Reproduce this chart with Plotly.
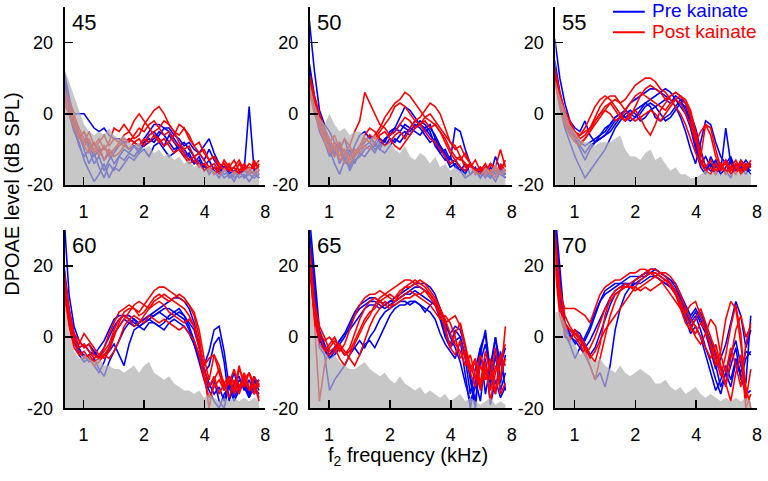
import math
import plotly.graph_objects as go

# f2 frequency grid (kHz)
freq = [0.800, 0.847, 0.897, 0.950, 1.006, 1.065, 1.128, 1.194, 1.265, 1.339,
        1.418, 1.502, 1.590, 1.684, 1.783, 1.888, 1.999, 2.117, 2.242, 2.374,
        2.514, 2.662, 2.819, 2.985, 3.161, 3.347, 3.544, 3.753, 3.974, 4.208,
        4.456, 4.719, 4.997, 5.291, 5.603, 5.933, 6.283, 6.653, 7.045, 7.450]

levels = ["45", "50", "55", "60", "65", "70"]
x_ticks = [1, 2, 4, 8]
y_ticks = [-20, 0, 20]
legend_names = ["Pre kainate", "Post kainate"]

# noise floors (dB SPL)
noise_45 = [13, 9, 5, 1, -3, -5, -6, -5, -6, -4, -6, -7, -6, -8, -9, -8, -10, -9, -11, -10,
            -12, -11, -13, -12, -14, -13, -15, -14, -16, -15, -16, -17, -15, -17, -16, -17, -16, -15, -16, -15]
noise_50 = [9, 3, -1, -3, 0, -3, -5, -4, -6, -5, -5, -6, -7, -6, -8, -9, -8, -10, -11, -9,
            -12, -13, -11, -12, -14, -12, -15, -14, -16, -15, -16, -17, -15, -16, -17, -15, -16, -14, -16, -15]
noise_55 = [10, 5, 1, -3, -5, -7, -8, -8, -9, -8, -8, -8, -7, -6, -10, -12, -12, -13, -11, -10,
            -13, -12, -14, -16, -15, -17, -17, -18, -18, -17, -16, -17, -16, -17, -16, -17, -16, -17, -16, -17]
noise_60 = [11, 2, -4, -6, -5, -6, -7, -6, -8, -8, -9, -9, -10, -9, -8, -10, -8, -7, -10, -11,
            -12, -11, -13, -14, -15, -15, -16, -15, -17, -16, -17, -18, -17, -18, -17, -18, -17, -18, -17, -18]
noise_65 = [15, 3, -2, -4, -6, -5, -7, -8, -9, -9, -8, -7, -9, -10, -11, -10, -12, -13, -11, -13,
            -14, -15, -14, -16, -15, -16, -17, -16, -18, -17, -16, -18, -17, -18, -19, -18, -17, -19, -18, -19]
noise_70 = [7, 7, 4, 0, -2, -5, -4, -6, -7, -6, -8, -9, -10, -8, -10, -11, -10, -9, -10, -11,
            -13, -13, -12, -14, -15, -14, -16, -15, -14, -16, -17, -16, -17, -18, -17, -18, -17, -18, -17, -18]

# pre-kainate DPOAE levels (dB SPL)
pre_45 = [
    [10, 4, 0, 0, 0, -2, -4, -5, -4, -6, -7, -7, -8, -7, -8, -9, -7, -5, -3, -3, -4, -4, -6, -7, -9, -8, -10, -11, -9, -7, -11, -14, -15, -16, -15, -17, -16, 2, -16, -15],
    [8, 2, -4, -9, -12, -10, -14, -12, -16, -13, -11, -9, -8, -10, -9, -11, -8, -6, -5, -7, -9, -6, -8, -10, -12, -11, -14, -12, -15, -13, -16, -18, -15, -17, -19, -16, -18, -17, -16, -18],
    [12, 5, -2, -6, -10, -14, -11, -15, -18, -14, -16, -12, -13, -11, -12, -10, -9, -8, -7, -5, -6, -8, -10, -9, -11, -13, -12, -15, -14, -17, -15, -16, -18, -17, -16, -18, -17, -19, -17, -16],
    [6, 0, -5, -8, -13, -16, -19, -17, -14, -18, -15, -16, -14, -12, -13, -11, -10, -12, -9, -8, -10, -12, -11, -9, -10, -12, -14, -13, -16, -15, -17, -16, -15, -18, -17, -16, -18, -16, -17, -18],
    [9, 3, -3, -7, -5, -9, -12, -10, -13, -11, -14, -12, -10, -11, -9, -10, -8, -7, -8, -6, -4, -5, -7, -9, -8, -10, -12, -11, -13, -10, -13, -15, -17, -16, -18, -17, -16, -17, -18, -17],
]
pre_50 = [
    [26, 12, 1, -3, -5, -8, -10, -7, -12, -9, -6, -5, -7, -8, -10, -7, -6, -4, -1, 2, 1, -1, -3, -5, -4, -6, -9, -12, -14, -13, -15, -17, -14, -16, -18, -15, -17, -12, -16, -17],
    [14, 5, -1, -4, -9, -12, -8, -13, -15, -11, -9, -8, -6, -9, -7, -8, -5, -4, -5, -3, -4, -2, -3, -4, -6, -8, -11, -10, -13, -4, -5, -10, -14, -16, -17, -15, -18, -16, -17, -18],
    [12, 3, -3, -6, -10, -14, -17, -13, -15, -12, -10, -9, -8, -10, -9, -7, -6, -5, -3, -4, -5, -3, -4, -6, -8, -7, -10, -12, -15, -14, -16, -18, -17, -15, -18, -16, -17, -19, -16, -18],
    [10, 1, -5, -8, -12, -9, -14, -11, -16, -13, -12, -10, -9, -11, -8, -9, -7, -8, -6, -5, -6, -4, -2, -3, -5, -9, -11, -13, -12, -15, -16, -14, -17, -16, -15, -17, -18, -16, -15, -17],
    [13, 4, -2, -5, -8, -11, -9, -13, -10, -14, -11, -12, -10, -9, -10, -11, -9, -7, -8, -6, -4, -5, -6, -4, -3, -7, -9, -11, -14, -13, -15, -16, -14, -17, -16, -18, -15, -17, -16, -17],
]
pre_55 = [
    [21, 10, 3, -2, -4, -5, -2, -6, -8, -7, -6, -5, -3, -1, 1, 3, 4, 5, 6, 7, 7, 6, 5, 4, 2, -1, -5, -10, -14, -8, -2, -3, -8, -12, -14, -12, -16, -13, -15, -14],
    [15, 6, 0, -4, -6, -8, -9, -8, -7, -6, -5, -3, -1, 0, 1, 0, -1, 0, 2, 3, 2, 0, -2, -1, 1, 3, 2, -2, -8, -14, -12, -15, -13, -16, -4, -14, -16, -15, -13, -15],
    [12, 4, -2, -5, -7, -9, -11, -9, -8, -7, -6, -4, -2, -1, -1, 0, 1, 2, 3, 2, -1, -2, -1, 0, 2, 4, 3, 0, -4, -10, -15, -16, -14, -17, -15, -13, -16, -15, -17, -14],
    [10, 2, -4, -8, -12, -15, -18, -16, -14, -12, -10, -7, -4, -2, 0, 1, 0, -2, -1, 1, 2, 3, 4, 3, 5, 4, 1, -3, -9, -13, -16, -14, -17, -15, -16, -18, -14, -16, -15, -17],
    [13, 5, -1, -3, -7, -10, -13, -10, -8, -6, -4, -3, -1, 0, -1, -2, -1, 1, 3, 4, 5, 6, 7, 6, 4, 2, 0, -4, -10, -15, -17, -12, -15, -14, -17, -13, -16, -14, -15, -16],
]
pre_60 = [
    [34, 12, 3, -1, -3, -2, -4, -6, -3, 0, 3, 5, 6, 6, 5, 4, 5, 6, 7, 8, 9, 10, 11, 11, 10, 8, 4, -2, -8, -4, 2, 3, -4, -14, -10, -15, -12, -16, -11, -14],
    [20, 8, 1, -3, -2, -4, -5, -3, -1, 2, 5, 6, 6, 5, 4, 3, 4, 5, 6, 7, 8, 8, 7, 6, 5, 2, -2, -6, -10, -8, -2, 0, -7, -18, -13, -11, -15, -12, -16, -13],
    [15, 5, -1, -5, -7, -6, -8, -10, -7, -3, 1, 3, 5, 4, 3, 4, 5, 6, 6, 7, 6, 5, 6, 7, 6, 3, -1, -5, -11, -14, -12, -18, -20, -13, -16, -12, -14, -17, -12, -15],
    [18, 6, 0, -4, -5, -7, -6, -9, -11, -7, -4, -1, 2, 4, 5, 3, 2, 4, 4, 3, 4, 6, 7, 8, 6, 4, 2, -3, -9, -13, -16, -14, -18, -12, -17, -14, -11, -16, -13, -12],
    [16, 4, -2, -3, -6, -5, -4, -6, -5, -4, -2, -5, -8, -2, 2, 3, 4, 5, 4, 3, 2, 4, 5, 4, 3, 1, -2, -7, -12, -15, -18, -20, -16, -14, -18, -15, -13, -17, -14, -16],
]
pre_65 = [
    [34, 18, 2, -2, -5, -3, -1, 1, 4, 7, 9, 10, 11, 11, 10, 9, 10, 11, 12, 13, 14, 15, 15, 15, 14, 12, 8, 3, 1, 3, 2, -3, -12, -20, -5, 2, -10, 0, -8, -3],
    [28, 12, 0, -4, -6, -4, -2, 0, 3, 6, 8, 9, 10, 10, 9, 8, 9, 10, 11, 12, 13, 14, 14, 13, 12, 10, 6, 1, -2, 2, 0, -6, -16, -9, -3, 1, -14, -5, -15, -10],
    [24, 8, -3, -5, -15, -12, -10, -8, -5, -3, -5, -2, -1, -3, 0, 3, 6, 8, 9, 9, 10, 10, 9, 8, 7, 5, 1, -2, -4, -6, -1, -10, -20, -12, -18, -6, -19, -12, -17, -14],
    [26, 10, -1, -3, -5, -3, -1, 1, 2, 4, 6, 8, 9, 9, 8, 9, 10, 10, 11, 12, 12, 13, 12, 11, 10, 9, 5, 0, -3, -1, 0, -5, -11, -18, -7, -2, -9, -16, -4, -15],
    [30, 14, 1, -3, -6, -5, -3, -5, -4, -3, -1, -3, 0, 2, 5, 7, 8, 9, 10, 10, 9, 10, 9, 7, 9, 10, 8, 4, 0, -3, -7, -13, -18, -14, -3, -16, -8, 0, -13, -5],
]
pre_70 = [
    [36, 20, 3, 0, 1, 0, -1, 2, 6, 10, 13, 14, 15, 15, 16, 17, 17, 17, 18, 19, 19, 18, 17, 16, 14, 11, 8, 5, 7, 4, 1, -4, -9, -6, -2, 4, 10, 6, -3, 2],
    [32, 15, 1, -2, -6, -3, 0, 3, 7, 10, 12, 13, 14, 15, 15, 14, 15, 16, 17, 18, 18, 17, 16, 15, 13, 10, 6, 3, 5, 7, 3, -2, -8, -14, -10, -5, -1, -8, -13, 6],
    [30, 12, 0, -1, 2, 1, -2, -5, -3, 1, 5, 9, 12, 13, 14, 14, 16, 17, 18, 18, 17, 16, 15, 14, 12, 9, 5, 1, 3, 0, -5, -10, -15, -12, -8, -12, -6, -10, -4, -5],
    [28, 10, 2, 0, -1, -3, -5, -8, -12, -10, -14, -8, 2, 8, 12, 14, 15, 15, 16, 17, 17, 16, 15, 14, 13, 10, 7, 4, 6, 2, -3, -7, -12, -16, -10, -14, -7, -11, -16, -15],
    [34, 16, 4, 1, -2, 0, -3, -1, 2, 5, 8, 11, 13, 14, 15, 15, 16, 17, 17, 18, 19, 18, 17, 16, 15, 12, 9, 6, 8, 5, 2, -1, -5, -9, -13, -8, -3, -12, -6, -4],
]

# post-kainate DPOAE levels (dB SPL)
post_45 = [
    [5, 2, -3, -6, -8, -5, -9, -7, -10, -8, -4, -5, -3, -5, -2, 0, -2, -4, -6, -8, -7, -9, -11, -10, -12, -14, -13, -15, -14, -16, -15, -17, -16, -14, -17, -16, -15, -17, -13, -16],
    [3, 0, -4, -7, -5, -8, -10, -8, -6, -9, -7, -8, -6, -5, -7, -6, -3, -1, 1, 2, 0, -3, -5, -8, -10, -9, -12, -11, -13, -15, -14, -16, -13, -15, -17, -14, -16, -15, -17, -14],
    [7, 4, 0, -5, -9, -11, -8, -12, -9, -11, -10, -9, -7, -8, -6, -4, -5, -3, -2, -4, -6, -5, -8, -9, -11, -13, -12, -14, -16, -15, -17, -15, -14, -16, -15, -13, -16, -14, -15, -17],
    [4, 1, -2, -6, -9, -7, -11, -9, -13, -10, -12, -11, -9, -10, -8, -7, -9, -6, -5, -4, -2, -3, -5, -6, -4, -7, -9, -11, -10, -13, -12, -14, -16, -15, -13, -16, -14, -16, -15, -13],
    [6, 2, -1, -4, -7, -10, -8, -11, -9, -12, -10, -8, -9, -7, -8, -9, -7, -8, -6, -7, -9, -8, -6, -3, -4, -6, -9, -8, -11, -13, -12, -15, -14, -16, -15, -17, -15, -16, -14, -15],
]
post_50 = [
    [10, 4, -2, -5, -8, -6, -10, -7, -9, -5, -2, 6, 3, 0, -3, -4, -6, -5, -3, -1, -2, -4, -3, -5, -7, -8, -10, -12, -14, -13, -15, -16, -14, -17, -15, -16, -14, -15, -10, -15],
    [8, 2, -3, -7, -10, -8, -12, -10, -13, -11, -9, -7, -8, -6, -4, -1, 1, 3, 4, 6, 5, 3, 1, -1, -2, -3, -5, -8, -11, -13, -12, -15, -14, -16, -17, -15, -16, -18, -14, -16],
    [11, 5, 0, -4, -7, -10, -8, -11, -9, -12, -10, -8, -6, -7, -5, -3, -1, 2, 3, 2, 0, -2, -1, 1, 3, 2, 0, -4, -8, -10, -9, -12, -14, -16, -15, -17, -16, -15, -17, -16],
    [6, 0, -4, -8, -11, -9, -13, -11, -14, -12, -9, -6, -4, -5, -7, -9, -8, -6, -5, -7, -4, -2, -3, -1, 0, -2, -4, -6, -8, -9, -12, -14, -15, -13, -16, -14, -17, -15, -16, -13],
    [9, 3, -1, -6, -9, -12, -10, -14, -12, -10, -11, -9, -10, -8, -6, -5, -7, -9, -10, -8, -6, -4, -3, -2, -4, -3, -5, -7, -10, -12, -13, -11, -14, -16, -15, -17, -14, -16, -15, -14],
]
post_55 = [
    [12, 5, 0, -3, -5, -7, -6, -4, -1, 2, 4, 5, 5, 3, 4, 6, 8, 9, 10, 10, 9, 7, 6, 4, 2, 0, -3, -7, -11, -14, -16, -17, -14, -16, -13, -15, -17, -14, -16, -13],
    [10, 3, -2, -5, -7, -6, -4, -1, 2, 4, 5, 4, 2, 0, -2, -1, 2, 5, 7, 8, 7, 6, 4, 5, 6, 5, 3, 0, -6, -12, -3, -4, -10, -15, -13, -16, -14, -17, -15, -14],
    [11, 4, -1, -4, -6, -8, -7, -5, -3, -1, 1, 3, 4, 3, 1, -1, -2, -1, 0, 1, 0, -2, 0, 2, 4, 5, 4, 1, -5, -11, -15, -13, -16, -14, -17, -15, -13, -16, -14, -15],
    [9, 2, -3, -6, -8, -9, -7, -5, -2, 0, 2, 3, 1, -1, -2, 0, 1, -1, -4, -6, -3, 1, 3, 5, 6, 5, 3, -1, -7, -13, -16, -15, -17, -14, -16, -15, -17, -13, -15, -14],
    [13, 6, 1, -2, -5, -6, -5, -4, -2, 0, 1, 0, -2, -1, 1, 3, 5, 6, 5, 4, 3, 2, 1, 3, 4, 3, 0, -3, -8, -5, -3, -6, -12, -15, -14, -17, -15, -16, -14, -15],
]
post_60 = [
    [19, 8, 0, -2, 1, -1, -3, -5, -6, -4, 0, 4, 7, 8, 8, 7, 9, 11, 13, 14, 14, 13, 12, 11, 10, 9, 6, 0, -10, -20, -12, -9, -13, -11, -15, -8, -14, -10, -13, -18],
    [17, 6, -1, -3, -2, -4, -6, -5, -3, 1, 4, 7, 8, 9, 8, 6, 7, 9, 11, 12, 11, 10, 11, 12, 11, 9, 7, 2, -6, -12, -5, -8, -14, -12, -16, -9, -12, -15, -11, -14],
    [14, 4, -2, -4, -6, -5, -7, -6, -4, -2, 2, 5, 6, 5, 3, 4, 6, 8, 9, 10, 9, 7, 6, 5, 4, 5, 3, -2, -9, -14, -11, -16, -13, -17, -12, -15, -10, -14, -16, -13],
    [12, 3, -3, -5, -4, -6, -8, -7, -5, -6, -4, -1, 3, 5, 6, 5, 4, 6, 5, 4, 5, 4, 3, 2, 3, 1, -1, -5, -12, -17, -14, -12, -15, -11, -13, -16, -12, -10, -15, -12],
    [16, 7, 1, -1, -3, -2, -5, -6, -5, -3, 1, 3, 5, 7, 9, 10, 9, 8, 10, 11, 12, 11, 10, 9, 8, 6, 3, -3, -8, -6, -5, -10, -15, -13, -9, -14, -11, -15, -13, -17],
]
post_65 = [
    [25, 8, 1, -1, 0, -2, -4, -2, 2, 6, 9, 11, 12, 12, 13, 12, 13, 14, 15, 16, 16, 15, 14, 13, 11, 9, 6, 4, 5, 6, 3, -3, -8, -12, -5, -10, -15, -8, -12, 3],
    [22, 5, -2, -4, -2, 0, -3, -5, -3, 1, 5, 8, 10, 11, 10, 9, 8, 10, 12, 14, 15, 16, 15, 14, 12, 10, 7, 2, -3, 1, 4, -2, -9, -6, -13, -4, -10, -16, -6, -2],
    [20, 4, -18, -8, -3, -1, -3, -5, -4, -1, 2, 5, 7, 8, 10, 11, 12, 11, 13, 14, 14, 15, 16, 15, 13, 11, 8, 5, 1, -2, -4, -8, -5, -11, -14, -7, -18, -10, -5, -8],
    [26, 10, 3, 0, -4, -3, -6, -8, -5, -2, 1, 4, 6, 9, 11, 12, 11, 10, 11, 12, 13, 12, 12, 13, 12, 10, 7, 3, -3, -5, -1, -6, -10, -14, -8, -12, -6, -15, -11, -6],
    [24, 6, 0, -3, -5, -4, -2, -4, -6, -8, -5, -1, 3, 6, 8, 10, 9, 9, 10, 11, 11, 12, 11, 10, 9, 7, 5, 6, 4, 0, -6, -4, -10, -7, -15, -9, -12, -3, -16, -13],
]
post_70 = [
    [28, 12, 8, 8, 8, 7, 6, 4, 8, 12, 14, 15, 16, 16, 17, 18, 18, 19, 19, 18, 17, 16, 14, 12, 10, 8, 7, 9, 10, 6, 2, -3, -8, -4, 5, 10, 8, -2, -14, -20],
    [22, 8, 3, 2, 1, 0, -2, -5, -7, -2, 6, 11, 13, 14, 14, 15, 16, 17, 18, 19, 19, 18, 17, 15, 13, 10, 6, 3, 1, 4, 2, -2, -6, -11, -5, 3, 9, 1, -18, -9],
    [20, 6, 1, -1, 2, 0, -4, -8, -12, -6, 0, 6, 10, 13, 15, 14, 14, 13, 14, 13, 14, 15, 16, 15, 12, 8, 4, 2, 5, 8, 4, 0, -4, -9, -14, -6, 2, 6, 0, 3],
    [25, 10, 4, 2, 0, -2, -5, -3, 0, 4, 8, 10, 12, 13, 14, 14, 13, 14, 15, 16, 17, 18, 18, 17, 15, 12, 8, 5, 3, 0, -3, -6, -2, -8, -13, -18, -10, -5, -20, -16],
    [30, 14, 6, 3, 1, -1, -3, -6, -4, -1, 2, 4, 6, 8, 10, 12, 14, 16, 17, 18, 18, 17, 16, 14, 12, 9, 6, 3, 0, -2, 1, 5, 3, -5, -10, -3, -8, -14, -2, 4],
]

noise_all = [noise_45, noise_50, noise_55, noise_60, noise_65, noise_70]
pre_all = [pre_45, pre_50, pre_55, pre_60, pre_65, pre_70]
post_all = [post_45, post_50, post_55, post_60, post_65, post_70]

W, H = 768, 481
col_px = [(65, 267), (312, 515), (559, 762)]
row_px = [(7, 189), (235, 417)]
FONT = "Liberation Sans, Arial, sans-serif"
BLUE = "#0000ff"
RED = "#ff0000"

fig = go.Figure()
layout = {}
annotations = []
shapes = []

for k in range(6):
    r, c = divmod(k, 3)
    ax = "" if k == 0 else str(k + 1)
    xref, yref = "x" + ax, "y" + ax
    for ys in pre_all[k]:
        fig.add_trace(go.Scatter(x=freq, y=ys, mode="lines", xaxis=xref, yaxis=yref,
                                 line=dict(color=BLUE, width=1.6), name=legend_names[0],
                                 showlegend=False))
    for ys in post_all[k]:
        fig.add_trace(go.Scatter(x=freq, y=ys, mode="lines", xaxis=xref, yaxis=yref,
                                 line=dict(color=RED, width=1.6), name=legend_names[1],
                                 showlegend=False))
    nf = noise_all[k]
    fig.add_trace(go.Scatter(x=freq + freq[::-1], y=nf + [-20] * len(nf), mode="lines",
                             fill="toself", fillcolor="rgba(178,178,178,0.72)",
                             line=dict(width=0), xaxis=xref, yaxis=yref,
                             showlegend=False, hoverinfo="skip"))
    x0, x1 = col_px[c]
    y0, y1 = row_px[r]
    common = dict(showline=True, linewidth=2, linecolor="black", showgrid=False,
                  zeroline=False, ticks="inside", ticklen=8, tickwidth=1.5,
                  tickcolor="black", ticklabeloverflow="allow",
                  tickfont=dict(family=FONT, size=18, color="black"))
    layout["xaxis" + ax] = dict(domain=[x0 / W, x1 / W], anchor=yref, type="log",
                                range=[math.log10(0.805), math.log10(8)],
                                tickvals=x_ticks, ticktext=[str(t) for t in x_ticks],
                                ticklabelstandoff=9, **common)
    layout["yaxis" + ax] = dict(domain=[1 - y1 / H, 1 - y0 / H], anchor=xref,
                                range=[-20, 30], tickvals=y_ticks,
                                ticktext=[str(t) for t in y_ticks],
                                ticklabelstandoff=6, **common)
    annotations.append(dict(text=levels[k], xref="paper", yref="paper",
                            x=(x0 + 5) / W, y=1 - (y0 + 16) / H, xanchor="left",
                            yanchor="middle", showarrow=False,
                            font=dict(family=FONT, size=22, color="black")))

# legend drawn as line samples + coloured text
for name, color, ypx in [(legend_names[0], BLUE, 12), (legend_names[1], RED, 33)]:
    shapes.append(dict(type="line", xref="paper", yref="paper",
                       x0=617 / W, x1=649 / W, y0=1 - ypx / H, y1=1 - ypx / H,
                       line=dict(color=color, width=2)))
    annotations.append(dict(text=name, xref="paper", yref="paper",
                            x=654 / W, y=1 - (ypx - 1) / H, xanchor="left", yanchor="middle",
                            showarrow=False, font=dict(family=FONT, size=19, color=color)))

annotations.append(dict(text="DPOAE level (dB SPL)", xref="paper", yref="paper",
                        x=12 / W, y=1 - 198 / H, textangle=-90, showarrow=False,
                        xanchor="center", yanchor="middle",
                        font=dict(family=FONT, size=20, color="black")))
annotations.append(dict(text="f<sub>2</sub> frequency (kHz)", xref="paper", yref="paper",
                        x=411 / W, y=1 - 466 / H, showarrow=False,
                        xanchor="center", yanchor="middle",
                        font=dict(family=FONT, size=20, color="black")))

fig.update_layout(width=W, height=H, margin=dict(l=0, r=0, t=0, b=0),
                  plot_bgcolor="white", paper_bgcolor="white", showlegend=False,
                  hovermode=False,
                  annotations=annotations, shapes=shapes, **layout)

fig.write_html("out.html", config={"displayModeBar": False, "staticPlot": True},
               post_script="document.body.style.margin='0px';document.body.style.overflow='hidden';")
